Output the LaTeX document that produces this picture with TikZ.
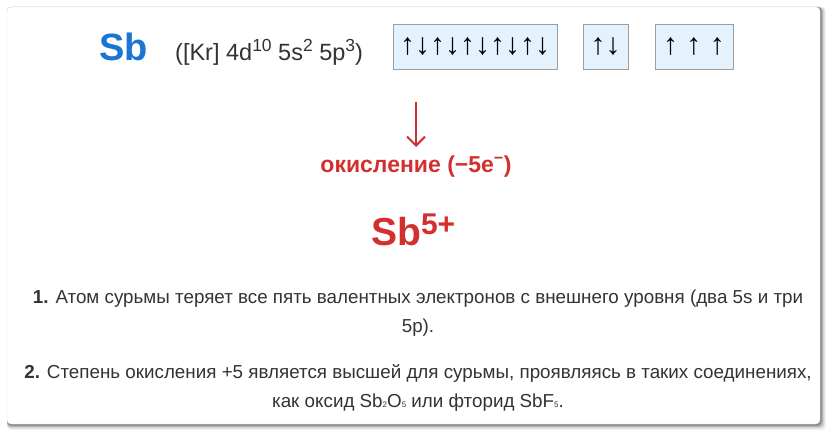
\documentclass[tikz,border=0pt]{standalone}
\usepackage{fontspec}
\setmainfont{Liberation Sans}
\usetikzlibrary{arrows.meta, positioning}

\definecolor{sbblue}{HTML}{1976D2}
\definecolor{oxred}{HTML}{D32F2F}
\definecolor{orbfill}{HTML}{E3F2FD}
\definecolor{orbline}{HTML}{9E9E9E}
\definecolor{txtgray}{HTML}{333333}

\newcommand{\supr}[1]{\raisebox{0.42em}{\fontsize{17.5}{17.5}\selectfont #1}}
\newcommand{\subr}[1]{{\fontsize{8}{8}\selectfont #1}}

\begin{document}
\begin{tikzpicture}[
            x = 1pt, y = -1pt, % pixel grid, y down
            > = {Straight Barb[length=9pt, width=18pt]}, % arrow head style
            orbital/.style = {
                draw = orbline,
                fill = orbfill,
                minimum height = 45pt,
                inner sep = 0pt,
                font = \fontsize{30}{30}\selectfont
            },
            note/.style = {
                align = center,
                text = txtgray,
                font = \fontsize{18.8}{28.5}\selectfont
            }
        ]

        \useasboundingbox (0,0) rectangle (836,436);

        % card with shadow
        \foreach \d/\o in {6/0.05, 4.5/0.10, 3/0.18, 1.5/0.25}
            \fill[black, opacity=\o, rounded corners=4pt]
                (7,7) rectangle (820+\d,424+\d);
        \filldraw[draw=black!12, fill=white, rounded corners=4pt]
            (7,7) rectangle (820,424);

        \node[font=\fontsize{38}{38}\selectfont\bfseries, text=sbblue] (sb) at (123.5,47) {Sb};
        \node[anchor=base west, text=txtgray, font=\fontsize{23.5}{23.5}\selectfont, inner sep=0pt]
            (config) at (175,61) {([Kr] 4d\supr{10} 5s\supr{2} 5p\supr{3})};

        \node[orbital, minimum width=164pt] (d) at (475,46.5) {↑↓↑↓↑↓↑↓↑↓};
        \node[orbital, minimum width=45pt] (s) at (605.5,46.5) {↑↓};
        \node[orbital, minimum width=78pt] (p) at (694,46.5) {↑ ↑ ↑};

        \coordinate (top) at (416,102);
        \coordinate (tip) at (416,147);
        \draw[->, oxred, line width=2pt] (top) -- (tip);

        \node[text=oxred, font=\fontsize{23}{23}\selectfont\bfseries] (ox) at (416,167)
            {окисление (−5e\textsuperscript{−})};
        \node[text=oxred, font=\fontsize{39}{39}\selectfont\bfseries, anchor=base west, inner sep=0pt]
            (ion) at (371,245)
            {Sb\raisebox{0.28em}{\fontsize{30}{30}\selectfont 5+}};

        \node[note] (n1) at (418,313)
            {\textbf{1.} Атом сурьмы теряет все пять валентных электронов с внешнего уровня (два 5s и три\\ 5p).};
        \node[note] (n2) at (418,388)
            {\textbf{2.} Степень окисления +5 является высшей для сурьмы, проявляясь в таких соединениях,\\
             как оксид Sb\subr{2}O\subr{5} или фторид SbF\subr{5}.};

    \end{tikzpicture}
\end{document}
